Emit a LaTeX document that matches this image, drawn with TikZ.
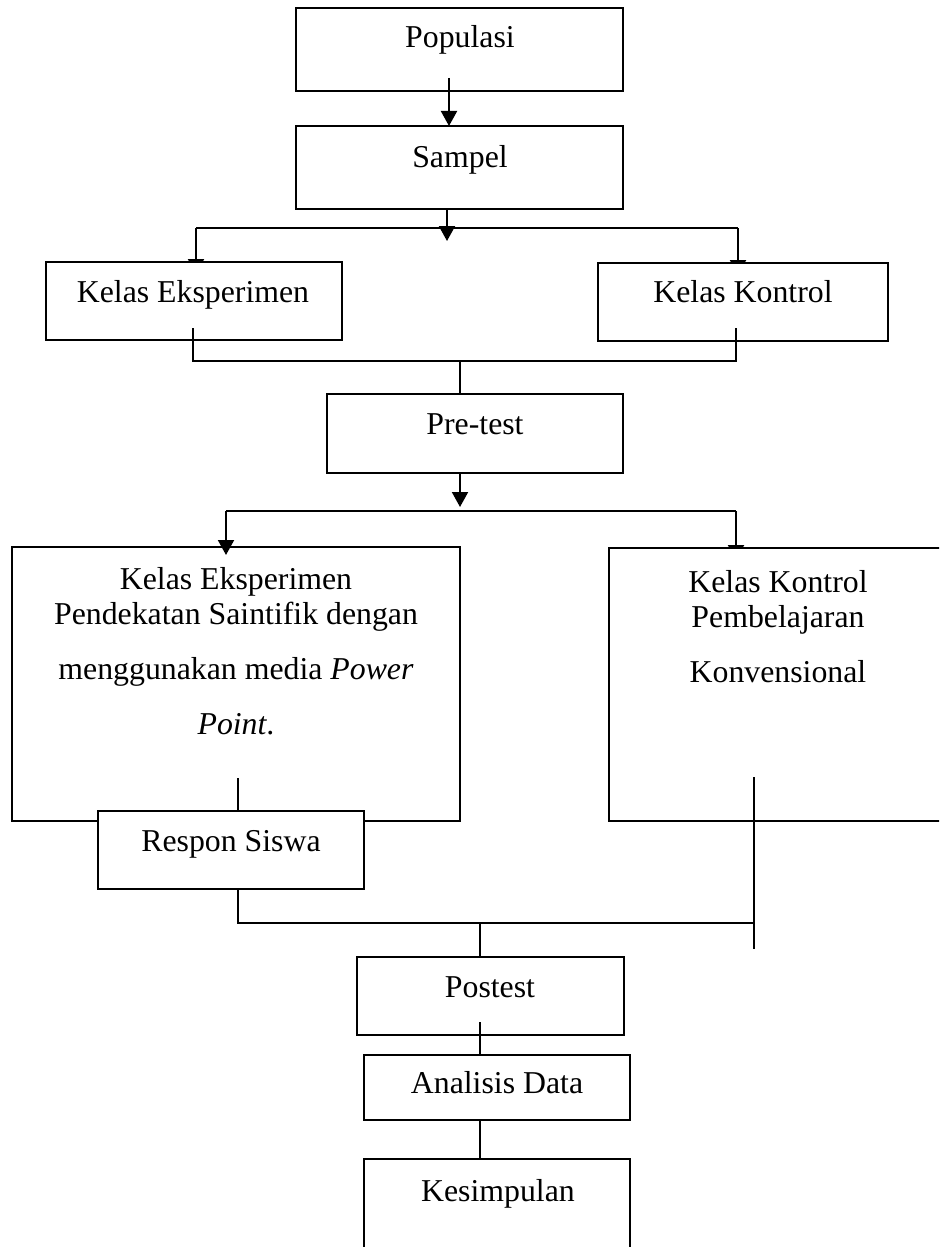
\documentclass[tikz,border=0pt]{standalone}
\usepackage{fontspec}
\setmainfont{Liberation Serif}
\usetikzlibrary{arrows.meta,backgrounds}
\begin{document}
\begin{tikzpicture}[x=0.5pt,y=-0.5pt,
  box/.style={draw,fill=white,line width=1.3pt,inner sep=0pt,outer sep=0pt,anchor=north west},
  conn/.style={line width=1pt},
  arr/.style={conn,-{Triangle[length=7.5pt,width=8pt]}},
  txt/.style={inner sep=0pt,anchor=base,font=\fontsize{15.9}{17.5}\selectfont,align=center}]
\clip (0,0) rectangle (939,1247);
% junction points
\coordinate (h1L) at (196,228); \coordinate (h1R) at (738,228);
\coordinate (m1L) at (193,361); \coordinate (m1R) at (736,361); \coordinate (m1C) at (460,361);
\coordinate (p1) at (460,507);
\coordinate (m2L) at (226,511); \coordinate (h2R) at (736,511);
\coordinate (rx) at (238,800);
\coordinate (m3L) at (238,923); \coordinate (m3R) at (754,923); \coordinate (m3C) at (480,923);
% boxes
\node[box,minimum width=163.5pt,minimum height=41.5pt] (pop) at (296,8) {};
\node[box,minimum width=163.5pt,minimum height=41.5pt] (sam) at (296,126) {};
\node[box,minimum width=148pt,minimum height=39pt] (ke1) at (46,262) {};
\node[box,minimum width=145pt,minimum height=39pt] (kk1) at (598,263) {};
\node[box,minimum width=148pt,minimum height=39.5pt] (pre) at (327,394) {};
\node[box,minimum width=224pt,minimum height=137pt] (ke2) at (12,547) {};
\node[box,minimum width=175.5pt,minimum height=136.5pt] (kk2) at (609,548) {};
\node[box,minimum width=133pt,minimum height=39pt] (res) at (98,811) {};
\node[box,minimum width=133.5pt,minimum height=39pt] (post) at (357,957) {};
\node[box,minimum width=133pt,minimum height=32.5pt] (anal) at (364,1055) {};
\node[box,minimum width=133pt,minimum height=60pt] (kes) at (364,1159) {};
% arrows whose heads are mostly hidden behind boxes
\begin{scope}[on background layer]
\draw[arr] (h1L) -- ([yshift=-6pt]ke1.north -| h1L);
\draw[arr] (h1R) -- ([yshift=-6pt]kk1.north -| h1R);
\draw[arr] (h2R) -- ([yshift=-6pt]kk2.north -| h2R);
\end{scope}
% texts
\node[txt] (popT) at (460,48) {Populasi};
\node[txt] (samT) at (460,167) {Sampel};
\node[txt] (ke1T) at (193,302) {Kelas Eksperimen};
\node[txt] (kk1T) at (743,302) {Kelas Kontrol};
\node[txt] (preT) at (475,434) {Pre-test};
\node[txt] (ke2T) at (236,734) {Kelas Eksperimen\\Pendekatan Saintifik dengan\\[10pt]menggunakan media \textit{Power}\\[10pt]\textit{Point}.};
\node[txt] (kk2T) at (778,682) {Kelas Kontrol\\Pembelajaran\\[10pt]Konvensional};
\node[txt] (resT) at (231,851) {Respon Siswa};
\node[txt] (postT) at (490,997) {Postest};
\node[txt] (analT) at (497,1093) {Analisis Data};
\node[txt] (kesT) at (498,1201) {Kesimpulan};
% visible connectors
\draw[arr] ([xshift=-5.25pt,yshift=6.5pt]pop.south) -- ([xshift=-5.25pt]sam.north);
\draw[arr] ([xshift=-6.25pt]sam.south) -- ([xshift=-6.25pt,yshift=-16pt]sam.south);
\draw[conn] (h1L) -- (h1R);
\draw[conn] ([yshift=6pt]ke1.south -| m1L) -- (m1L) -- (m1R);
\draw[conn] ([yshift=6.5pt]kk1.south -| m1R) -- ([yshift=-0.5pt]m1R);
\draw[conn] (m1C) -- (pre.north -| m1C);
\draw[arr] (pre.south -| p1) -- (p1);
\draw[conn] (m2L) -- (h2R);
\draw[arr] (m2L) -- ([yshift=-4pt]ke2.north -| m2L);
\draw[conn] ([yshift=21.5pt]ke2.south -| rx) -- (res.north -| rx);
\draw[conn] (res.south -| m3L) -- (m3L) -- (m3R);
\draw[conn] ([yshift=22pt]kk2.south -| m3R) -- ([yshift=-64pt]kk2.south -| m3R);
\draw[conn] (m3C) -- (post.north -| m3C);
\draw[conn] ([yshift=6.5pt]post.south -| m3C) -- (anal.north -| m3C);
\draw[conn] (anal.south -| m3C) -- (kes.north -| m3C);
\end{tikzpicture}
\end{document}
